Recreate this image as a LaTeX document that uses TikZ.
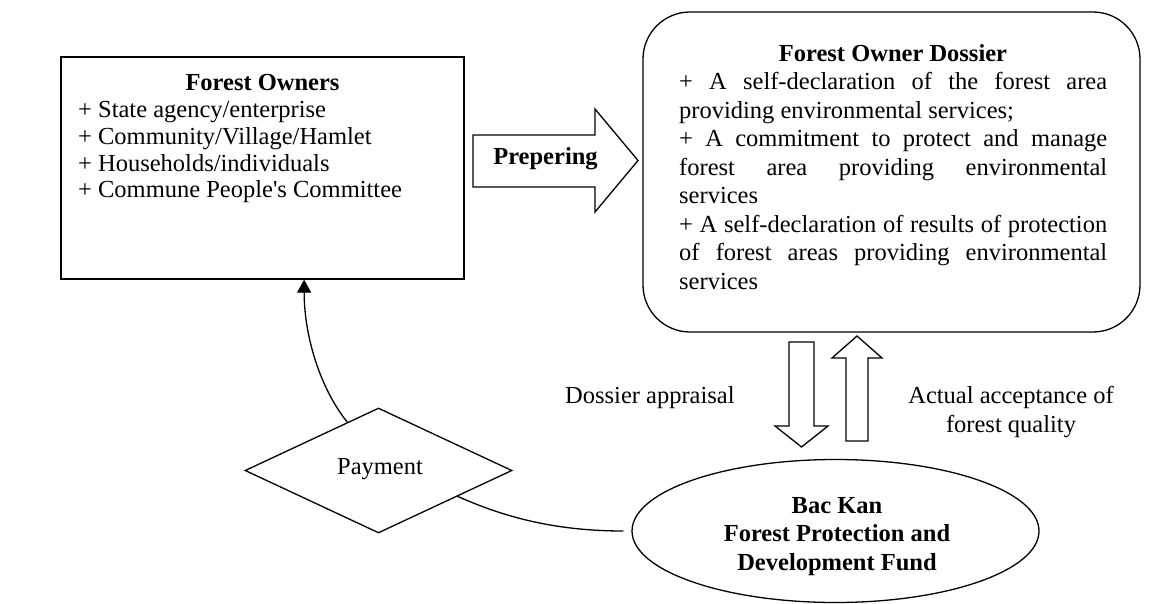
\documentclass[tikz,border=0pt]{standalone}
\usepackage{fontspec}
\setmainfont{Liberation Serif}
\usetikzlibrary{arrows.meta,shapes.geometric,calc}
\begin{document}
\begin{tikzpicture}[x=1pt,y=-1pt,
  every node/.style={inner sep=0pt},
  txt/.style={font=\fontsize{24.5}{28.5}\selectfont},
  bold/.style={font=\fontsize{24.5}{28.5}\selectfont\bfseries},
  line/.style={line width=1.3pt, draw=black},
  boxstyle/.style={draw=black, line width=1.3pt},
  ]
\useasboundingbox[fill=white] (0,0) rectangle (1161,604);
% main shapes
\node[boxstyle, rectangle, minimum width=403pt, minimum height=222pt] (owners) at (262.5,168) {};
\node[boxstyle, rectangle, rounded corners=47pt, minimum width=497pt, minimum height=320pt] (dossier) at (891.5,172) {};
\node[boxstyle, diamond, minimum width=267pt, minimum height=125pt] (pay) at (378.5,470.5) {};
\node[boxstyle, ellipse, minimum width=407pt, minimum height=143pt] (bank) at (835.5,531) {};
% texts
\node[bold, anchor=base] (ownerstitle) at (262.5,91) {Forest Owners};
\node[txt, anchor=base west] (ownerslist) at (78,117.7) {\vtop{\baselineskip=26.7pt\halign{#\hfil\cr + State agency/enterprise\cr + Community/Village/Hamlet\cr + Households/individuals\cr + Commune People\textquotesingle s Committee\cr}}};
\node[bold, anchor=base] (dostitle) at (893,62) {Forest Owner Dossier};
\node[txt, anchor=base west] (dosbody) at (679,90) {\vtop{\baselineskip=28.5pt
 \hbox to 428pt{+ A self-declaration of the forest area}
 \hbox{providing environmental services;}
 \hbox to 428pt{+ A commitment to protect and manage}
 \hbox to 428pt{forest area providing environmental}
 \hbox{services}
 \hbox to 428pt{+ A self-declaration of results of protection}
 \hbox to 428pt{of forest areas providing environmental}
 \hbox{services}}};
\node[bold, anchor=base] (prep) at (545.5,165) {Prepering};
\node[txt, anchor=base] (paytext) at (380,474) {Payment};
\node[bold, anchor=base] (banktext) at (837,513) {\vtop{\baselineskip=28.5pt\halign{\hfil#\hfil\cr Bac Kan\cr Forest Protection and\cr Development Fund\cr}}};
\node[txt, anchor=base west] (appr) at (565,403) {Dossier appraisal};
\node[txt, anchor=base] (acc) at (1011,403) {\vtop{\baselineskip=29pt\halign{\hfil#\hfil\cr Actual acceptance of\cr forest quality\cr}}};
% block arrows
\draw[line] (473,135) -- (595,135) -- (595,109) -- (638,160.5) -- (595,212) -- (595,187) -- (473,187) -- cycle;
\draw[line] (789,342) -- (814,342) -- (814,426) -- (828,426) -- (801.5,447) -- (775,426) -- (789,426) -- cycle;
\draw[line] (846,441) -- (846,358) -- (832,358) -- (857,336) -- (882,358) -- (868,358) -- (868,441) -- cycle;
% connectors
\coordinate (payA) at ($(pay.west)!0.767!(pay.north)$);
\coordinate (ownB) at ($(owners.south west)!0.603!(owners.south east)$);
\draw[line, -{Triangle[length=13pt,width=14pt]}] (payA) .. controls ($(payA)+(-28,-35)$) and ($(ownB)+(0,55)$) .. (ownB);
\coordinate (payB) at ($(pay.east)!0.41!(pay.south)$);
\coordinate (bankW) at ([xshift=-8pt]bank.west);
\draw[line] (payB) .. controls ($(payB)+(45,20)$) and ($(bankW)+(-70,0)$) .. (bankW);
\end{tikzpicture}
\end{document}
